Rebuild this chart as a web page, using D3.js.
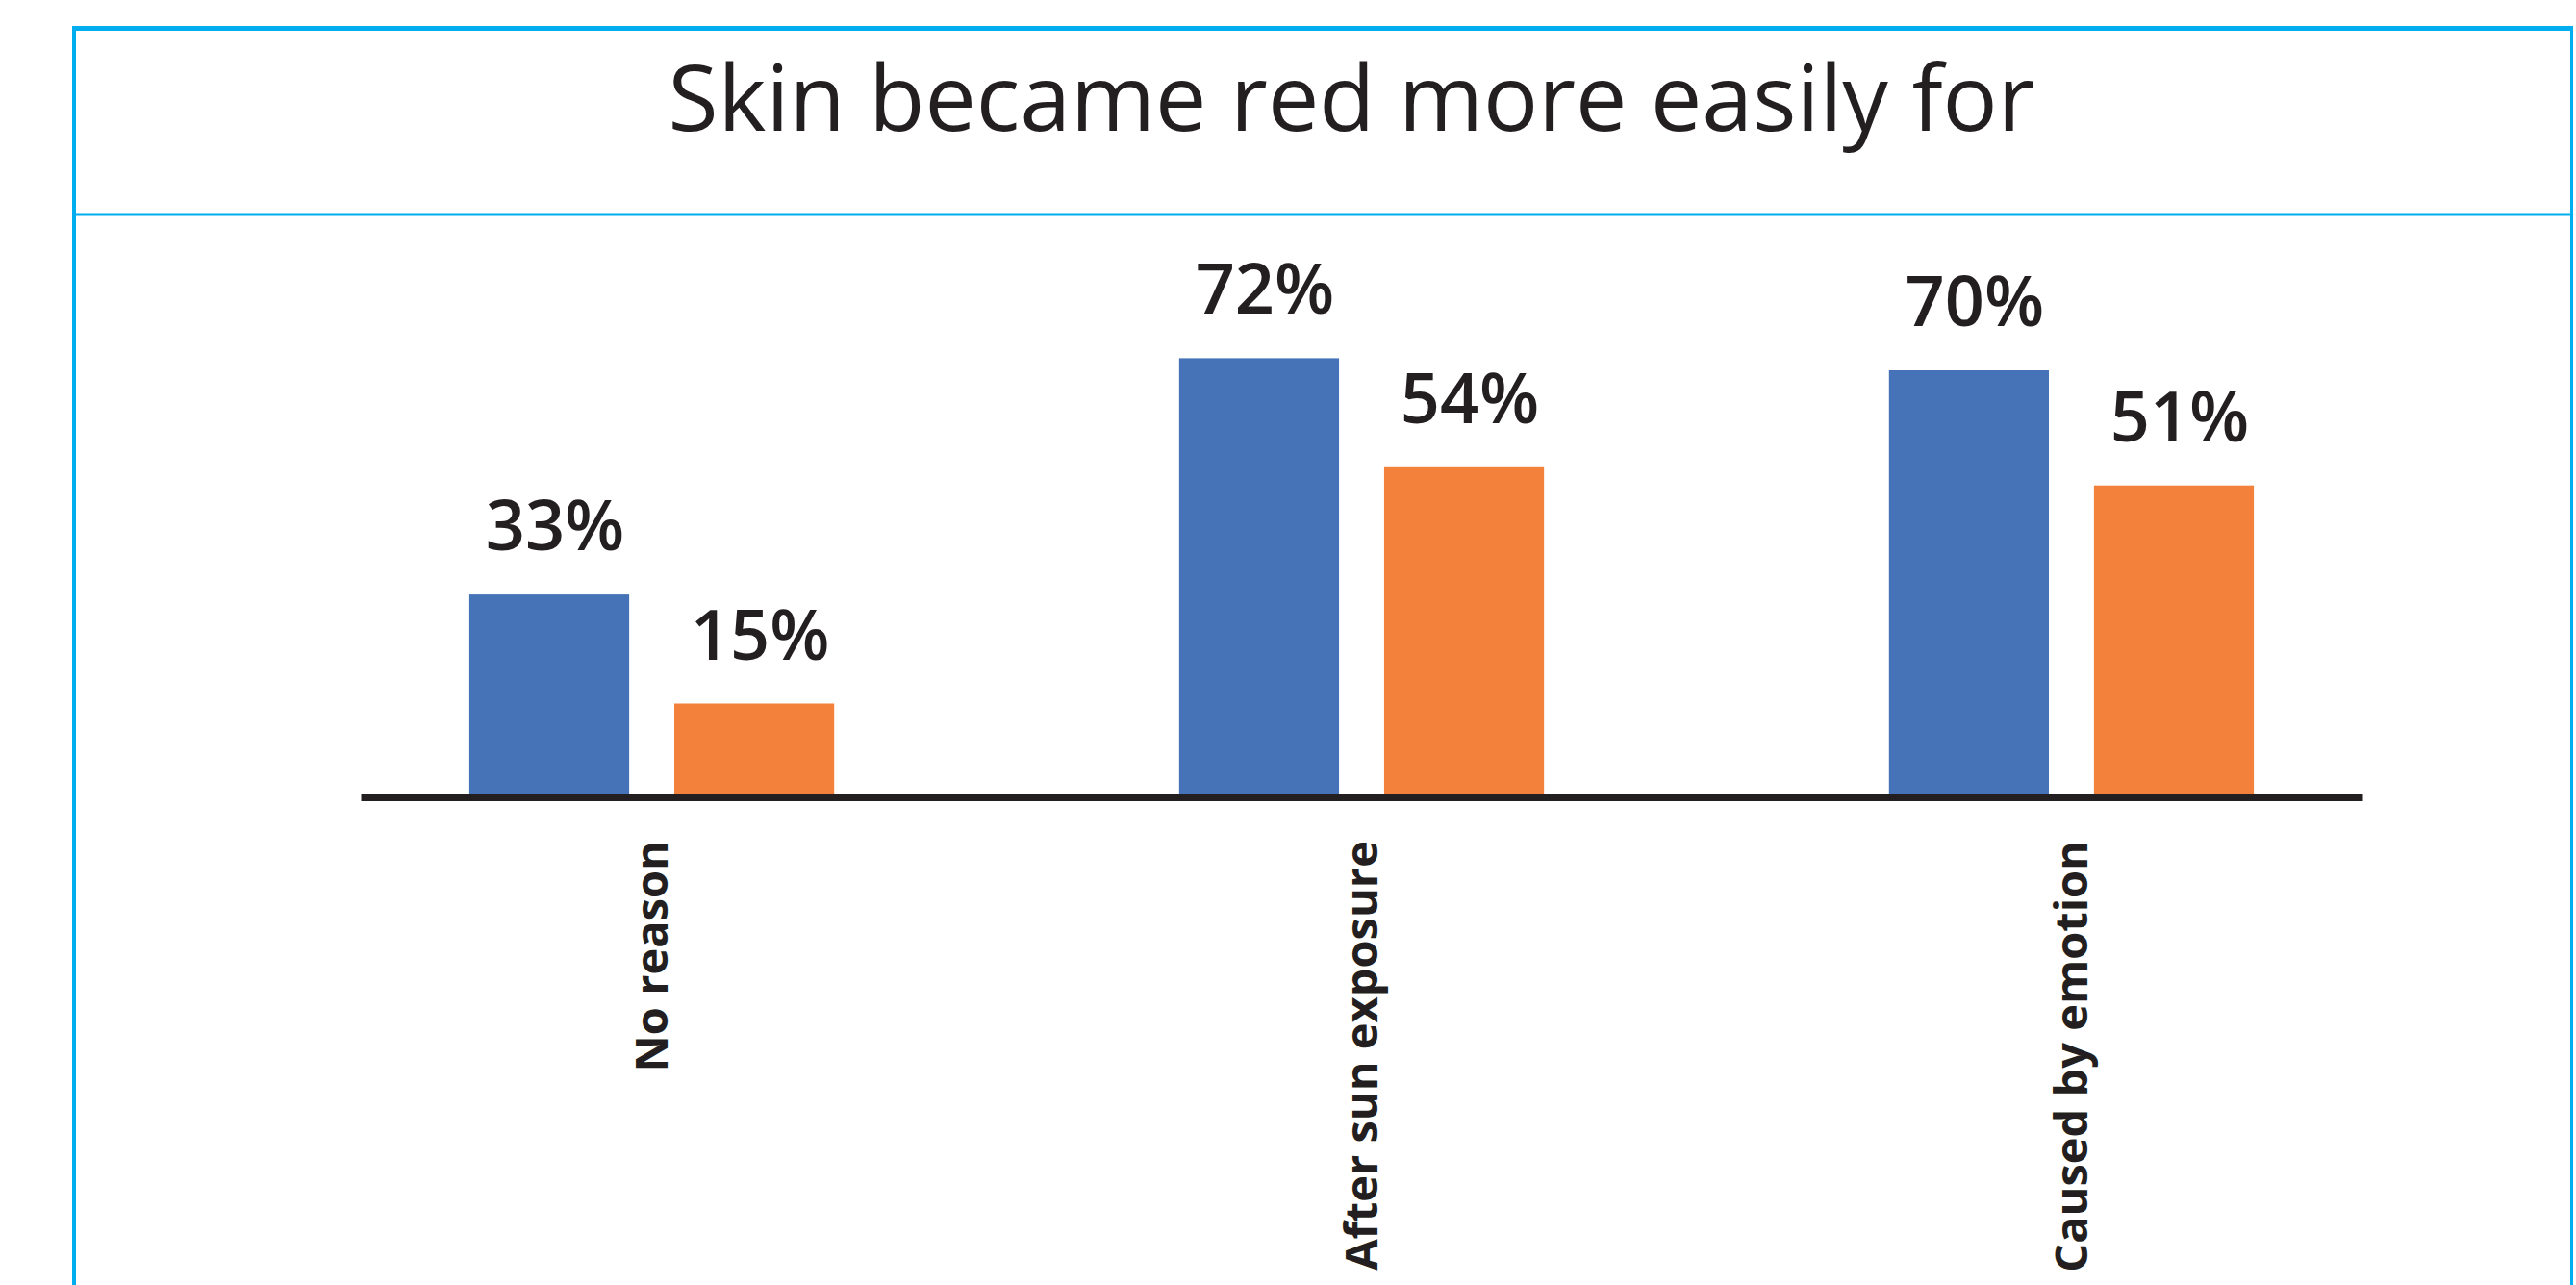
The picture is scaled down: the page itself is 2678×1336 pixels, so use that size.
<!DOCTYPE html>
<html>
<head>
<meta charset="utf-8">
<script src="https://cdn.jsdelivr.net/npm/d3@7"></script>
<style>
    body { margin: 0; background: #fff; }
    text { font-family: "Open Sans", sans-serif; fill: #231f20; }
</style>
</head>
<body>
<div id="chart"></div>
<script>
const title = 'Skin became red more easily for';
const categories = ['No reason', 'After sun exposure', 'Caused by emotion'];
const seriesNames = ['group1', 'group2'];
const group1Values = [33, 72, 70];
const group2Values = [15, 54, 51];
const seriesColors = ['#4672b7', '#f3803b'];

const width = 2678;
const height = 1336;

const data = categories.map((c, i) => ({
    category: c,
    values: [
        {key: seriesNames[0], value: group1Values[i]},
        {key: seriesNames[1], value: group2Values[i]}
    ]
}));

const svg = d3.select('#chart').append('svg')
    .attr('width', width)
    .attr('height', height);

// frame
const frame = svg.append('g')
    .attr('fill', 'none')
    .attr('stroke', '#00aeef');
frame.append('line').attr('x1', 75).attr('x2', 2675).attr('y1', 29.5).attr('y2', 29.5).attr('stroke-width', 5);
frame.append('line').attr('x1', 77).attr('x2', 77).attr('y1', 27).attr('y2', height).attr('stroke-width', 4);
frame.append('line').attr('x1', 2673.5).attr('x2', 2673.5).attr('y1', 27).attr('y2', height).attr('stroke-width', 3);
frame.append('line').attr('x1', 77).attr('x2', 2675).attr('y1', 223).attr('y2', 223).attr('stroke-width', 3);

svg.append('text')
    .attr('x', 1405)
    .attr('y', 136)
    .attr('text-anchor', 'middle')
    .attr('font-size', 95)
    .text(title);

const x0 = d3.scaleBand()
    .domain(categories)
    .range([375, 2456])
    .paddingInner(0.486)
    .paddingOuter(0.153);

const x1 = d3.scaleBand()
    .domain(seriesNames)
    .range([0, x0.bandwidth()])
    .paddingInner(0.22)
    .paddingOuter(0);

const color = d3.scaleOrdinal()
    .domain(seriesNames)
    .range(seriesColors);

const y = d3.scaleLinear()
    .domain([0, 100])
    .range([826, 196]);

const groups = svg.append('g')
  .selectAll('g')
  .data(data)
  .join('g')
    .attr('transform', d => `translate(${x0(d.category)},0)`);

groups.selectAll('rect')
  .data(d => d.values)
  .join('rect')
    .attr('x', d => x1(d.key))
    .attr('y', d => y(d.value))
    .attr('width', x1.bandwidth())
    .attr('height', d => y(0) - y(d.value))
    .attr('fill', d => color(d.key));

groups.selectAll('text')
  .data(d => d.values)
  .join('text')
    .attr('x', d => x1(d.key) + x1.bandwidth() / 2 + 6)
    .attr('y', d => y(d.value) - 46)
    .attr('text-anchor', 'middle')
    .attr('font-size', 72)
    .attr('font-weight', 600)
    .text(d => d.value + '%');

const axis = svg.append('g')
    .attr('transform', 'translate(0,829)')
    .call(d3.axisBottom(x0).tickSize(0).tickSizeOuter(0));

axis.select('.domain')
    .attr('stroke', '#231f20')
    .attr('stroke-width', 7);

axis.selectAll('.tick text')
    .attr('transform', 'rotate(-90)')
    .attr('x', -45)
    .attr('y', 0)
    .attr('dy', '0.35em')
    .attr('text-anchor', 'end')
    .attr('font-family', '"Open Sans", sans-serif')
    .attr('font-size', 47)
    .attr('font-weight', 700)
    .attr('fill', '#231f20');
</script>
</body>
</html>
